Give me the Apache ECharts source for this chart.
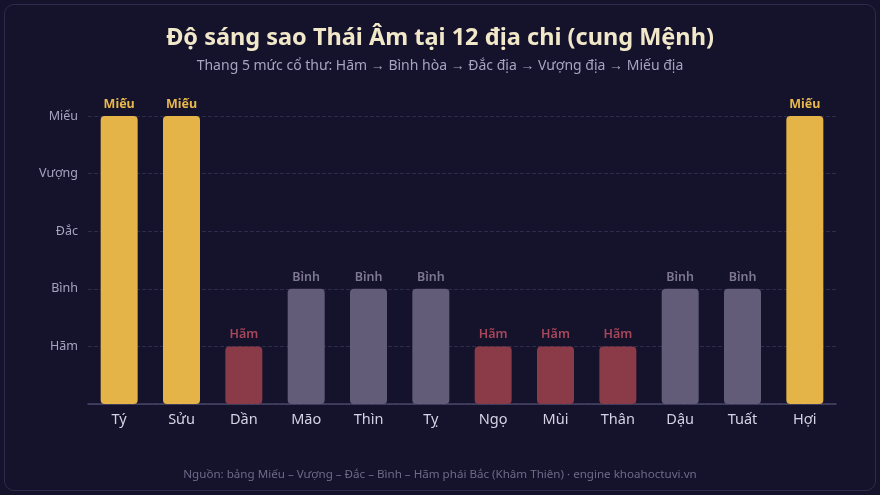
<!DOCTYPE html>
<html>
<head>
<meta charset="utf-8">
<script src="https://cdn.jsdelivr.net/npm/echarts@6/dist/echarts.min.js"></script>
<style>
  html, body { margin: 0; padding: 0; background: #15122b; }
  #frame {
    position: absolute; left: 4px; top: 4px; width: 870px; height: 485px;
    border: 1px solid #2f2b4c; border-radius: 10px; background: #15122b;
  }
  #chart { position: absolute; left: 0; top: 0; width: 880px; height: 495px; }
</style>
</head>
<body>
<div id="frame"></div>
<div id="chart"></div>
<script>
  // 12 địa chi
  var categories = ["Tý", "Sửu", "Dần", "Mão", "Thìn", "Tỵ", "Ngọ", "Mùi", "Thân", "Dậu", "Tuất", "Hợi"]
  // mức độ sáng của từng cung
  var levels = ["Miếu", "Miếu", "Hãm", "Bình", "Bình", "Bình", "Hãm", "Hãm", "Hãm", "Bình", "Bình", "Miếu"]
  // thang 5 mức (1 = Hãm ... 5 = Miếu)
  var tickLabels = ["", "Hãm", "Bình", "Đắc", "Vượng", "Miếu"]

  var barColors = { "Miếu": "#e5b449", "Vượng": "#d59a3c", "Đắc": "#9a8a5a", "Bình": "#625c79", "Hãm": "#8b3a48" }
  var labelColors = { "Miếu": "#e8b84c", "Vượng": "#d59a3c", "Đắc": "#9a8a5a", "Bình": "#7d7792", "Hãm": "#a8475a" }

  var chart = echarts.init(document.getElementById("chart"))

  var data = levels.map(function (lv) {
    return {
      value: tickLabels.indexOf(lv),
      itemStyle: { color: barColors[lv] },
      label: { color: labelColors[lv], fontWeight: lv === "Miếu" ? "bold" : 600 }
    }
  })

  var option = {
    backgroundColor: "transparent",
    title: [
      {
        text: "Độ sáng sao Thái Âm tại 12 địa chi (cung Mệnh)",
        subtext: "Thang 5 mức cổ thư: Hãm → Bình hòa → Đắc địa → Vượng địa → Miếu địa",
        left: "center",
        top: 21,
        itemGap: 9,
        textStyle: { color: "#f1e7c9", fontSize: 23.5, fontWeight: "bold", fontFamily: "Noto Sans" },
        subtextStyle: { color: "#a8a3c0", fontSize: 14, fontFamily: "Noto Sans" }
      },
      {
        text: "Nguồn: bảng Miếu – Vượng – Đắc – Bình – Hãm phái Bắc (Khâm Thiên) · engine khoahoctuvi.vn",
        left: "center",
        top: 464,
        textStyle: { color: "#6f6a88", fontSize: 11.6, fontWeight: "normal", fontFamily: "Noto Sans" }
      }
    ],
    grid: { left: 88, right: 44, top: 116, bottom: 91 },
    xAxis: {
      type: "category",
      data: categories,
      axisLine: { lineStyle: { color: "#4a4568", width: 1.5 } },
      axisTick: { show: false },
      axisLabel: { color: "#d6d2e6", fontSize: 14.5, margin: 8, fontFamily: "Noto Sans" }
    },
    yAxis: {
      type: "value",
      min: 0,
      max: 5,
      interval: 1,
      axisLine: { show: false },
      axisTick: { show: false },
      axisLabel: {
        color: "#a8a3c0",
        fontSize: 12.5,
        margin: 10,
        fontFamily: "Noto Sans",
        formatter: function (v) { return tickLabels[v] || "" }
      },
      splitLine: { lineStyle: { color: "#2f2b4b", type: "dashed" } }
    },
    series: [
      {
        type: "bar",
        data: data,
        barWidth: 37,
        itemStyle: { borderRadius: 4 },
        label: {
          show: true,
          position: "top",
          distance: 5,
          fontSize: 12.5,
          fontFamily: "Noto Sans",
          formatter: function (p) { return levels[p.dataIndex] }
        }
      }
    ]
  }

  chart.setOption(option)
</script>
</body>
</html>
